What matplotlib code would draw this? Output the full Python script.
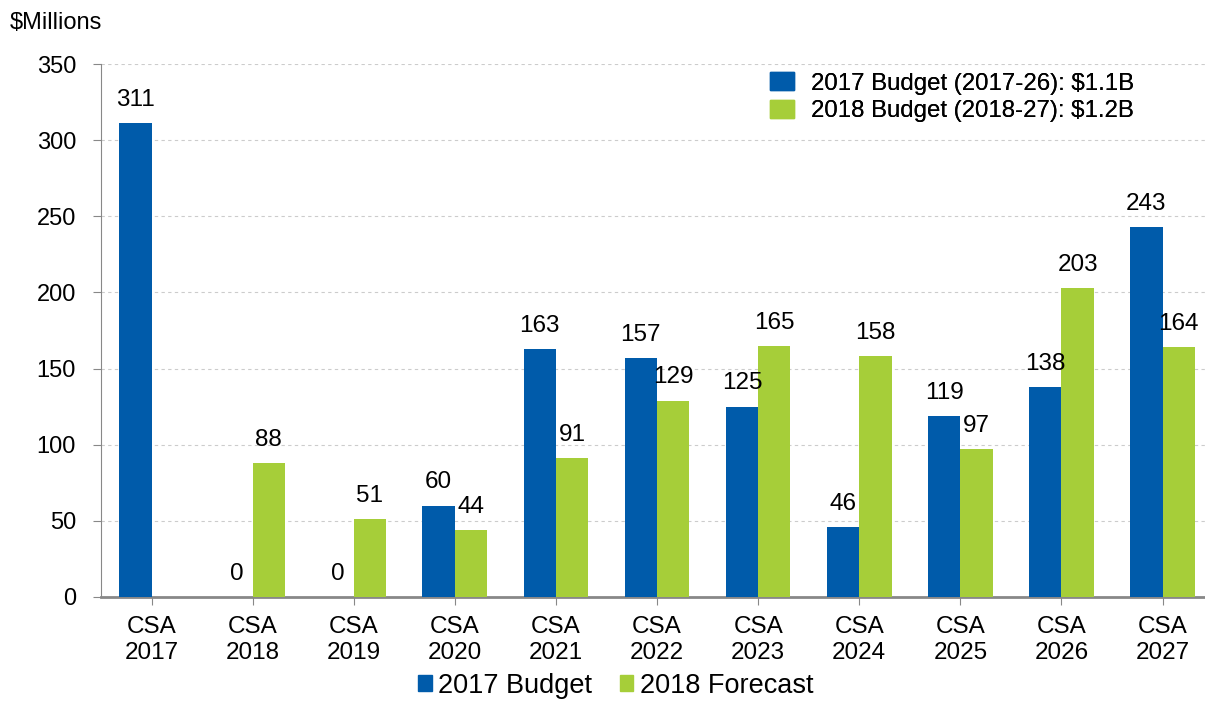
import numpy as np
import matplotlib.pyplot as plt
from matplotlib.patches import Patch

plt.rcParams['font.family'] = ['Liberation Sans', 'DejaVu Sans']

# datos
categorias = ["CSA\n2017", "CSA\n2018", "CSA\n2019", "CSA\n2020", "CSA\n2021", "CSA\n2022",
              "CSA\n2023", "CSA\n2024", "CSA\n2025", "CSA\n2026", "CSA\n2027"]
budget_2017 = [311, 0, 0, 60, 163, 157, 125, 46, 119, 138, 243]
forecast_2018 = [None, 88, 51, 44, 91, 129, 165, 158, 97, 203, 164]

azul = "#005BAA"
verde = "#A6CE39"

fig = plt.figure(figsize=(12.05, 7.04), dpi=100)
ax = fig.add_axes([0.0838, 0.152, 0.9162, 0.757])

x = np.arange(len(categorias))
w = 0.32

ax.bar(x - w/2, budget_2017, w, color=azul, zorder=3)
ax.bar(x + w/2, [v if v is not None else 0 for v in forecast_2018], w, color=verde, zorder=3)

# etiquetas de valores
for i, v in enumerate(budget_2017):
    ax.text(x[i] - w/2, v + 8, str(v), ha="center", va="bottom", fontsize=17.5)
for i, v in enumerate(forecast_2018):
    if v is None:
        continue
    ax.text(x[i] + w/2, v + 8, str(v), ha="center", va="bottom", fontsize=17.5)

ax.set_ylim(0, 350)
ax.set_xlim(-0.5, 10.42)
ax.set_yticks(range(0, 351, 50))
ax.set_xticks(x)
ax.set_xticklabels(categorias, fontsize=17.5, linespacing=1.2)
ax.tick_params(axis="y", labelsize=17, length=6, color="#888888", pad=12)
ax.tick_params(axis="x", length=6, color="#888888", pad=8)

ax.grid(axis="y", color="#cccccc", linestyle=(0, (3, 3)), linewidth=0.8, zorder=0)
ax.spines["top"].set_visible(False)
ax.spines["right"].set_visible(False)
ax.spines["left"].set_color("#888888")
ax.spines["bottom"].set_color("#888888")
ax.spines["bottom"].set_linewidth(2)

fig.text(0.008, 0.952, "$Millions", fontsize=17, ha="left", va="bottom")

# leyenda arriba
leg1 = ax.legend(handles=[Patch(color=azul), Patch(color=verde)],
                 labels=["2017 Budget (2017-26): $1.1B", "2018 Budget (2018-27): $1.2B"],
                 loc="upper left", bbox_to_anchor=(0.606, 0.985), frameon=False, fontsize=17.3,
                 borderaxespad=0, borderpad=0,
                 handlelength=1.0, handleheight=0.8, handletextpad=0.7, labelspacing=0.22)
ax.add_artist(leg1)

# leyenda abajo
fig.legend(handles=[Patch(color=azul), Patch(color=verde)],
           labels=["2017 Budget", "2018 Forecast"],
           loc="lower center", bbox_to_anchor=(0.511, -0.027), ncol=2, frameon=False,
           fontsize=19.5, handlelength=0.5, handleheight=0.5, handletextpad=0.25, columnspacing=1.0)

fig.savefig("out.png", dpi=100)
